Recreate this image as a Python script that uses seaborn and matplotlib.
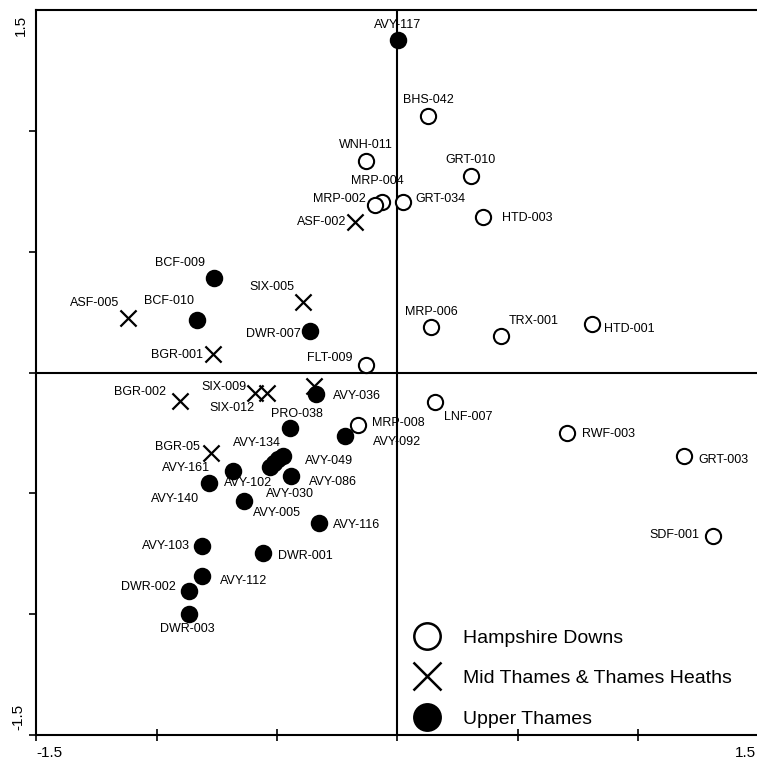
import pandas as pd
import seaborn as sns
import matplotlib.pyplot as plt
from matplotlib.lines import Line2D

# Hampshire Downs (open circles)
hd_names = ['BHS-042', 'WNH-011', 'GRT-010', 'MRP-004', 'MRP-002', 'GRT-034', 'HTD-003',
            'MRP-006', 'TRX-001', 'HTD-001', 'FLT-009', 'LNF-007', 'MRP-008', 'RWF-003',
            'GRT-003', 'SDF-001']
hd_x = [0.128, -0.131, 0.303, -0.064, -0.093, 0.023, 0.354,
        0.139, 0.429, 0.807, -0.131, 0.157, -0.165, 0.702,
        1.189, 1.310]
hd_y = [1.061, 0.875, 0.812, 0.707, 0.695, 0.707, 0.642,
        0.190, 0.151, 0.200, 0.031, -0.122, -0.219, -0.251,
        -0.345, -0.677]

# Mid Thames & Thames Heaths (crosses)
mt_names = ['ASF-002', 'SIX-005', 'ASF-005', 'BGR-001', 'BGR-002', 'SIX-009', 'SIX-012',
            '', 'BGR-05']
mt_x = [-0.175, -0.393, -1.120, -0.764, -0.901, -0.591, -0.543, -0.345, -0.774]
mt_y = [0.624, 0.293, 0.225, 0.078, -0.119, -0.086, -0.086, -0.056, -0.333]

# Upper Thames (filled circles)
ut_names = ['AVY-117', 'BCF-009', 'BCF-010', 'DWR-007', 'AVY-036', 'PRO-038', 'AVY-092',
            'AVY-134', 'AVY-049', 'AVY-030', 'AVY-102', 'AVY-086', 'AVY-161', 'AVY-140',
            'AVY-005', 'AVY-116', 'AVY-103', 'DWR-001', 'AVY-112', 'DWR-002', 'DWR-003']
ut_x = [0.001, -0.760, -0.832, -0.363, -0.338, -0.446, -0.217,
        -0.477, -0.496, -0.512, -0.529, -0.443, -0.681, -0.782,
        -0.637, -0.326, -0.810, -0.558, -0.810, -0.866, -0.866]
ut_y = [1.376, 0.393, 0.217, 0.172, -0.088, -0.229, -0.263,
        -0.346, -0.359, -0.376, -0.390, -0.429, -0.406, -0.457,
        -0.533, -0.623, -0.716, -0.748, -0.843, -0.905, -0.998]

group_names = ['Hampshire Downs', 'Mid Thames & Thames Heaths', 'Upper Thames']

# label offsets from the marker (pixels, right / down)
label_offsets = {
    'BHS-042': (0, -16), 'WNH-011': (0, -16), 'GRT-010': (0, -16), 'MRP-004': (-5, -21),
    'MRP-002': (-36, -6), 'GRT-034': (37, -3), 'HTD-003': (44, 1), 'MRP-006': (0, -15),
    'TRX-001': (33, -15), 'HTD-001': (37, 5), 'FLT-009': (-36, -7), 'LNF-007': (33, 15),
    'MRP-008': (41, -2), 'RWF-003': (42, 1), 'GRT-003': (39, 4), 'SDF-001': (-39, -1),
    'ASF-002': (-34, 0), 'SIX-005': (-31, -15), 'ASF-005': (-33, -15), 'BGR-001': (-36, 1),
    'BGR-002': (-40, -9), 'SIX-009': (-31, -6), 'SIX-012': (-35, 15), 'BGR-05': (-34, -6),
    'AVY-117': (0, -15), 'BCF-009': (-34, -15), 'BCF-010': (-28, -19), 'DWR-007': (-37, 3),
    'AVY-036': (41, 2), 'PRO-038': (7, -14), 'AVY-092': (52, 6), 'AVY-134': (-26, -13),
    'AVY-049': (51, 2), 'AVY-030': (16, 31), 'AVY-102': (-22, 16), 'AVY-086': (42, 6),
    'AVY-161': (-47, -3), 'AVY-140': (-34, 16), 'AVY-005': (33, 12), 'AVY-116': (38, 2),
    'AVY-103': (-36, 0), 'DWR-001': (42, 3), 'AVY-112': (41, 5), 'DWR-002': (-40, -4),
    'DWR-003': (-1, 15),
}

sns.set_style('white')
plt.rcParams['font.family'] = ['Liberation Sans', 'DejaVu Sans']
plt.rcParams['text.color'] = 'black'
plt.rcParams['xtick.color'] = 'black'
plt.rcParams['ytick.color'] = 'black'

fig = plt.figure(figsize=(7.57, 7.60), dpi=100)
ax = fig.add_axes([36 / 757, 25 / 760, 723 / 757, 725 / 760])

ax.axhline(0, color='black', lw=1.5, zorder=1)
ax.axvline(0, color='black', lw=1.5, zorder=1)

ut = pd.DataFrame({'x': ut_x, 'y': ut_y})
mt = pd.DataFrame({'x': mt_x, 'y': mt_y})
hd = pd.DataFrame({'x': hd_x, 'y': hd_y})

sns.scatterplot(data=ut, x='x', y='y', ax=ax, marker='o', s=125, color='black',
                edgecolor='black', linewidth=1.4, zorder=3)
sns.scatterplot(data=mt, x='x', y='y', ax=ax, marker='x', s=135, color='black',
                linewidth=1.6, zorder=4)
sns.scatterplot(data=hd, x='x', y='y', ax=ax, marker='o', s=120, color='white',
                edgecolor='black', linewidth=1.5, zorder=5)

for names, xs, ys in [(hd_names, hd_x, hd_y), (mt_names, mt_x, mt_y), (ut_names, ut_x, ut_y)]:
    for n, x, y in zip(names, xs, ys):
        if not n:
            continue
        dx, dy = label_offsets[n]
        ax.annotate(n, (x, y), xytext=(dx, -dy), textcoords='offset pixels',
                    ha='center', va='center', fontsize=9, color='black', zorder=6)

ax.set_xlim(-1.5, 1.5)
ax.set_ylim(-1.5, 1.5)
ax.set_xticks([-1.5, -1.0, -0.5, 0, 0.5, 1.0, 1.5])
ax.set_yticks([-1.5, -1.0, -0.5, 0, 0.5, 1.0])
ax.set_xticklabels([])
ax.set_yticklabels([])
ax.tick_params(axis='x', direction='inout', length=8, width=1.2, bottom=True)
ax.tick_params(axis='y', direction='out', length=5, width=1.2, left=True)
ax.set_xlabel('')
ax.set_ylabel('')
for side in ['left', 'top', 'bottom', 'right']:
    ax.spines[side].set_color('black')
    ax.spines[side].set_linewidth(1.5)

# end labels of the axes only
end_kw = dict(xycoords='axes fraction', textcoords='offset pixels', fontsize=11,
              color='black', annotation_clip=False)
ax.annotate('-1.5', (0, 0), xytext=(0, -11), ha='left', va='top', **end_kw)
ax.annotate('1.5', (1, 0), xytext=(-3, -11), ha='right', va='top', **end_kw)
ax.annotate('1.5', (0, 1), xytext=(-15, -5), ha='center', va='top', rotation=90, **end_kw)
ax.annotate('-1.5', (0, 0), xytext=(-18, 5), ha='center', va='bottom', rotation=90, **end_kw)

handles = [
    Line2D([], [], ls='', marker='o', ms=19, mfc='white', mec='black', mew=1.8),
    Line2D([], [], ls='', marker='x', ms=20, color='black', mew=1.8),
    Line2D([], [], ls='', marker='o', ms=19, mfc='black', mec='black', mew=1.8),
]
ax.legend(handles, group_names, loc='upper left', frameon=False, fontsize=14,
          bbox_to_anchor=(412 / 757, 1 - 629 / 760), bbox_transform=fig.transFigure,
          borderpad=0, borderaxespad=0, handlelength=1.5, handletextpad=1.13,
          labelspacing=1.18)

fig.savefig('out.png', dpi=100)
